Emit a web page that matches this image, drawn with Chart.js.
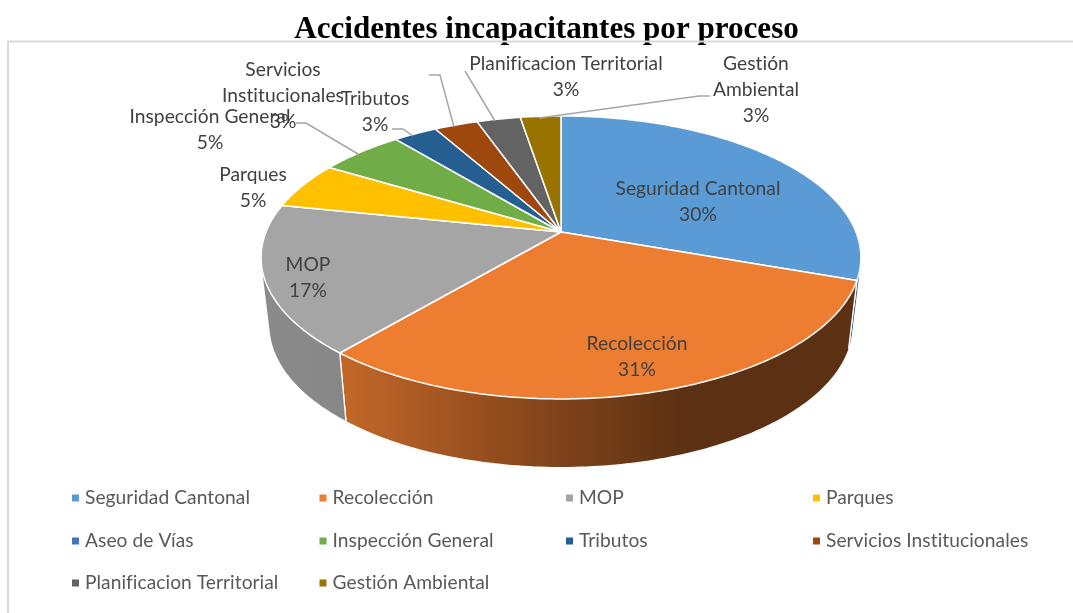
<!DOCTYPE html>
<html><head><meta charset="utf-8">
<style>html,body{margin:0;padding:0;background:#fff}canvas{display:block}</style>
<script src="https://cdn.jsdelivr.net/npm/chart.js@4/dist/chart.umd.min.js"></script>
</head><body><canvas id="c" width="1073" height="613"></canvas>
<script>
const categories=["Seguridad Cantonal","Recolección","MOP","Parques","Aseo de Vías","Inspección General","Tributos","Servicios Institucionales","Planificacion Territorial","Gestión Ambiental"];
const values=[30.4,30.8,17.0,5.4,0,5.4,2.8,2.8,2.8,2.6];
const colors=["#5B9BD5","#ED7D31","#A5A5A5","#FFC000","#4472C4","#70AD47","#255E91","#9E480E","#636363","#997300"];
const chartTitle="Accidentes incapacitantes por proceso";
// label placement: index -> text lines, centre x, first line y
const labelLayout=[
 {i:0,lines:["Seguridad Cantonal"],x:698,y:189},
 {i:1,lines:["Recolección"],x:637,y:344},
 {i:2,lines:["MOP"],x:308,y:265},
 {i:3,lines:["Parques"],x:253,y:175},
 {i:5,lines:["Inspección General"],x:210,y:117},
 {i:6,lines:["Tributos"],x:375,y:99},
 {i:7,lines:["Servicios","Institucionales"],x:283,y:70},
 {i:8,lines:["Planificacion Territorial"],x:566,y:64},
 {i:9,lines:["Gestión","Ambiental"],x:756,y:64}
];
const leaders=[
 [[539,118],[699,96],[710,96]],
 [[465,71],[495,121]],
 [[429,75],[440,75],[454,127]],
 [[392,129],[403,129],[413,136]],
 [[296,123],[306,123],[358,154]]
];
const legendCols=[72,319.5,566,813],legendRows=[497.5,540.5,582.5];
const UI='Lato, "Open Sans", sans-serif', FS=19.2;
const P={cx:561,cy:232,R:295,A:136.9,k:-0.18,depth:68,sx:0.972};
function topPt(t){const u=Math.cos(t),v=Math.sin(t),d=1+P.k*v;return [P.cx+P.R*u/d,P.cy+P.A*v/d];}
function botPt(t){const p=topPt(t);return [P.cx+(p[0]-P.cx)*P.sx,p[1]+P.depth];}
function rgb(h,f){const n=parseInt(h.slice(1),16);return `rgb(${Math.round((n>>16)*f)},${Math.round(((n>>8)&255)*f)},${Math.round((n&255)*f)})`;}
function area(q){let s=0;q.forEach((p,i)=>{const r=q[(i+1)%4];s+=p[0]*r[1]-r[0]*p[1];});return s;}
const pie3d={id:'pie3d',
 beforeDatasetsDraw(chart){
  const ctx=chart.ctx,arcs=chart.getDatasetMeta(0).data;
  ctx.save();ctx.lineJoin='round';
  // outer walls: front-facing strips joined in one path for each slice
  arcs.forEach((a,i)=>{
    const span=a.endAngle-a.startAngle;
    if(span<1e-4)return;
    const n=Math.max(4,Math.ceil(span*60));
    const g=ctx.createLinearGradient(261,0,861,0),c=colors[i];
    const far=i===0?.62:.39;
    g.addColorStop(0,rgb(c,.84));g.addColorStop(.14,rgb(c,.82));g.addColorStop(.5,rgb(c,.53));g.addColorStop(.7,rgb(c,far));g.addColorStop(1,rgb(c,far));
    ctx.beginPath();let any=false;
    for(let s=0;s<n;s++){
      const t0=a.startAngle+span*s/n,t1=a.startAngle+span*(s+1)/n;
      if(Math.sin(t0)<0&&Math.sin(t1)<0)continue;
      let q=[topPt(t0),topPt(t1),botPt(t1),botPt(t0)];
      if(area(q)<0)q=q.reverse();
      ctx.moveTo(q[0][0],q[0][1]);for(let j=1;j<4;j++)ctx.lineTo(q[j][0],q[j][1]);ctx.closePath();any=true;
    }
    if(!any)return;
    ctx.fillStyle=g;ctx.fill();
    ctx.strokeStyle='#fff';ctx.lineWidth=1.3;
    [a.startAngle,a.endAngle].forEach(t=>{if(Math.sin(t)<0)return;const p=topPt(t),q=botPt(t);ctx.beginPath();ctx.moveTo(p[0],p[1]);ctx.lineTo(q[0],q[1]);ctx.stroke();});
  });
  // top faces
  arcs.forEach((a,i)=>{
    const span=a.endAngle-a.startAngle;
    if(span<1e-4)return;
    const n=Math.max(6,Math.ceil(span*80));
    ctx.beginPath();ctx.moveTo(P.cx,P.cy);
    for(let s=0;s<=n;s++){const p=topPt(a.startAngle+span*s/n);ctx.lineTo(p[0],p[1]);}
    ctx.closePath();ctx.fillStyle=colors[i];ctx.fill();ctx.strokeStyle='#fff';ctx.lineWidth=1.5;ctx.stroke();
  });
  ctx.restore();
  return false;
 },
 afterDraw(chart){
  const ctx=chart.ctx;ctx.save();
  // frame
  ctx.strokeStyle='#d9d9d9';ctx.lineWidth=2;ctx.beginPath();ctx.moveTo(8,613);ctx.lineTo(8,41.5);ctx.lineTo(1073,41.5);ctx.stroke();
  // leaders
  ctx.strokeStyle='#a6a6a6';ctx.lineWidth=1.5;
  leaders.forEach(l=>{ctx.beginPath();l.forEach((p,j)=>j?ctx.lineTo(p[0],p[1]):ctx.moveTo(p[0],p[1]));ctx.stroke();});
  // data labels
  ctx.font=FS+'px '+UI;ctx.letterSpacing='0.05px';ctx.fillStyle='#404040';ctx.textAlign='center';ctx.textBaseline='middle';
  labelLayout.forEach(l=>{
    let y=l.y;l.lines.forEach(t=>{ctx.fillText(t,l.x,y);y+=25.7;});
    ctx.fillText(Math.round(values[l.i])+'%',l.x,y);
  });
  // legend
  ctx.textAlign='left';
  categories.forEach((c,i)=>{
    const x=legendCols[i%4],y=legendRows[Math.floor(i/4)];
    ctx.fillStyle=colors[i];ctx.fillRect(x,y-3,7,7);
    ctx.fillStyle='#595959';ctx.fillText(c,x+13,y);
  });
  ctx.restore();
 }
};
new Chart(document.getElementById('c'),{type:'pie',
 data:{labels:categories,datasets:[{data:values,backgroundColor:colors}]},
 options:{responsive:false,animation:false,
  layout:{padding:{left:20,top:0,right:0,bottom:150}},
  plugins:{legend:{display:false},tooltip:{enabled:false},
   title:{display:true,text:chartTitle,color:'#000',font:{family:'"Liberation Serif"',size:31.1,weight:'bold'},padding:{top:11,bottom:3}}}},
 plugins:[pie3d]});
</script></body></html>
